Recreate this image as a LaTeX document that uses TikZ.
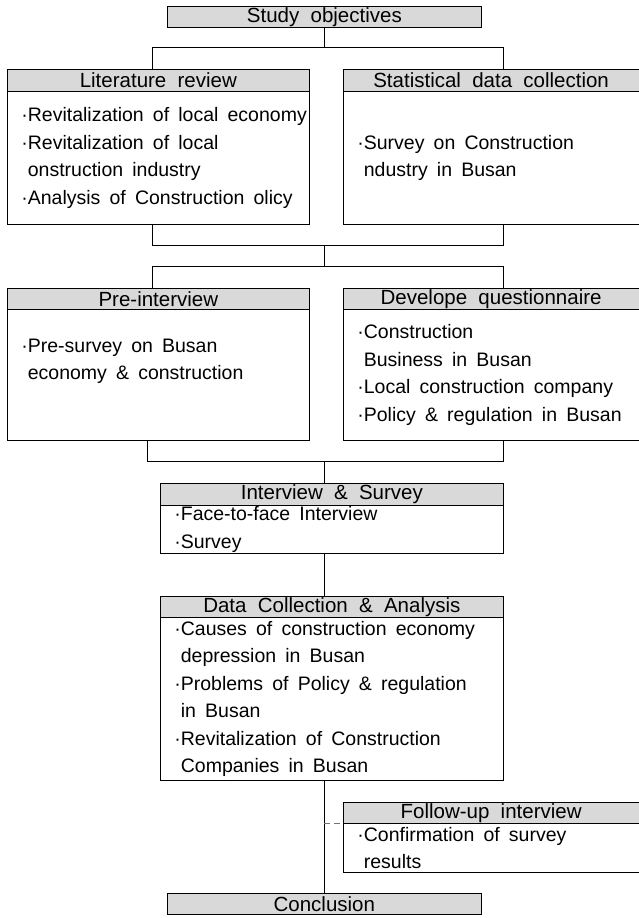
\documentclass[tikz,border=0pt]{standalone}
\usepackage{fontspec}
\usetikzlibrary{positioning}
\newfontfamily\dfont{Liberation Sans}
\newcommand\boxfont{\dfont\fontsize{19.5}{27.5}\selectfont\spaceskip=.47em\relax}
\newcommand\hdrfont{\dfont\fontsize{20.5}{22}\selectfont\spaceskip=.55em\relax}
\definecolor{hdrgray}{HTML}{D9D9D9}

\begin{document}
\begin{tikzpicture}[x=1pt, y=-1pt, line width=0.7pt,
	hdr/.style={draw, fill=hdrgray, anchor=north west, inner sep=0pt,
		font=\hdrfont},
	bdy/.style={draw, anchor=north west, inner sep=0pt},
	txt/.style={anchor=west, align=left, inner sep=0pt, font=\boxfont}]
	\useasboundingbox (0,0) rectangle (639,918);
	% top and bottom
	\node [hdr, minimum width=314pt, minimum height=21pt] (obj) at (167,6) {Study objectives};
	\node [hdr, minimum width=314pt, minimum height=21pt] (concl) at (167,893) {Conclusion};
	% first row
	\node [hdr, minimum width=302pt, minimum height=22pt] (lit) at (7,69) {Literature review};
	\node [bdy, minimum width=302pt, minimum height=133pt] (litb) at (7,91) {};
	\node [txt] (litt) at ([xshift=14pt]litb.west) {·Revitalization of local economy\\
		·Revitalization of local\\
		\phantom{·}onstruction industry\\
		·Analysis of Construction olicy};
	\node [hdr, minimum width=295.5pt, minimum height=22pt] (stat) at (343,69) {Statistical data collection};
	\node [bdy, minimum width=295.5pt, minimum height=133pt] (statb) at (343,91) {};
	\node [txt] (statt) at ([xshift=14pt]statb.west) {·Survey on Construction\\
		\phantom{·}ndustry in Busan};
	% second row
	\node [hdr, minimum width=302pt, minimum height=21pt] (pre) at (7,288) {Pre-interview};
	\node [bdy, minimum width=302pt, minimum height=131pt] (preb) at (7,309) {};
	\node [txt] (pret) at ([xshift=14pt, yshift=13.5pt]preb.west) {·Pre-survey on Busan\\
		\phantom{·}economy \& construction};
	\node [hdr, minimum width=295.5pt, minimum height=21pt] (quest) at (343,288) {Develope questionnaire};
	\node [bdy, minimum width=295.5pt, minimum height=131pt] (questb) at (343,309) {};
	\node [txt] (questt) at ([xshift=14pt]questb.west) {·Construction\\
		\phantom{·}Business in Busan\\
		·Local construction company\\
		·Policy \& regulation in Busan};
	% interview
	\node [hdr, minimum width=343pt, minimum height=22pt] (intv) at (160,483) {Interview \& Survey};
	\node [bdy, minimum width=343pt, minimum height=48pt] (intvb) at (160,505) {};
	\node [txt] (intvt) at ([xshift=14pt]intvb.west) {·Face-to-face Interview\\
		·Survey};
	% analysis
	\node [hdr, minimum width=343pt, minimum height=21pt] (data) at (160,596) {Data Collection \& Analysis};
	\node [bdy, minimum width=343pt, minimum height=163pt] (datab) at (160,617) {};
	\node [txt] (datat) at ([xshift=14pt]datab.west) {·Causes of construction economy\\
		\phantom{·}depression in Busan\\
		·Problems of Policy \& regulation\\
		\phantom{·}in Busan\\
		·Revitalization of Construction\\
		\phantom{·}Companies in Busan};
	% follow-up
	\node [hdr, minimum width=295.5pt, minimum height=21pt] (fol) at (343,802) {Follow-up interview};
	\node [bdy, minimum width=295.5pt, minimum height=49pt] (folb) at (343,823) {};
	\node [txt] (folt) at ([xshift=14pt]folb.west) {·Confirmation of survey\\
		\phantom{·}results};
	% connectors
	\coordinate (tl) at (152,47);
	\coordinate (tr) at (503,47);
	\coordinate (ml) at (152,245);
	\coordinate (mr) at (503,245);
	\coordinate (nl) at (152,266);
	\coordinate (nr) at (503,266);
	\coordinate (bl) at (147,461);
	\coordinate (br) at (503,461);
	\draw (obj.south) -- (obj.south |- tl);
	\draw (tl |- lit.north) -- (tl) -- (tr) -- (tr |- stat.north);
	\draw (ml |- litb.south) -- (ml) -- (mr) -- (mr |- statb.south);
	\draw (obj.south |- ml) -- (obj.south |- nl);
	\draw (nl |- pre.north) -- (nl) -- (nr) -- (nr |- quest.north);
	\draw (bl |- preb.south) -- (bl) -- (br) -- (br |- questb.south);
	\draw (obj.south |- bl) -- (obj.south |- intv.north);
	\draw (obj.south |- intvb.south) -- (obj.south |- data.north);
	\draw (obj.south |- datab.south) -- (concl.north);
	\draw [black!55, line width=1pt, dash pattern=on 6pt off 4pt] (obj.south |- fol.south) -- (fol.south west);
\end{tikzpicture}
\end{document}
